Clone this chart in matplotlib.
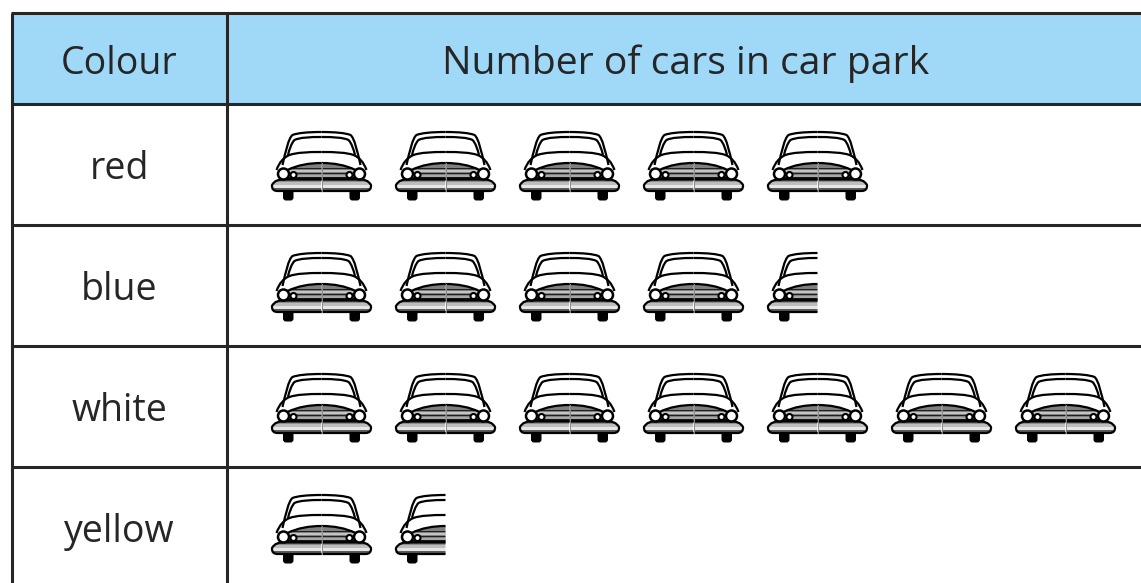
import matplotlib
matplotlib.use("Agg")
import matplotlib.pyplot as plt
from matplotlib.path import Path
from matplotlib.patches import PathPatch, Rectangle, Circle, FancyBboxPatch

colours = ["red", "blue", "white", "yellow"]
car_counts = [5, 4.5, 7, 1.5]
col_headers = ["Colour", "Number of cars in car park"]

W, H = 1141, 583
INK = "#262626"
fig = plt.figure(figsize=(W / 100, H / 100), dpi=100)
ax = fig.add_axes([0, 0, 1, 1])
ax.set_xlim(0, W)
ax.set_ylim(H, 0)
ax.axis("off")

FONT = "Open Sans"
LEFT, MID, TOP, HEAD = 12, 227, 13, 104
ROW_H = 121
PITCH = 124
CAR_X0 = 321.5
CAR_TOP = 132

ax.add_patch(Rectangle((LEFT, TOP), W - LEFT, HEAD - TOP, fc="#a0d8f8", ec="none", zorder=1))
for y in [TOP, HEAD] + [HEAD + ROW_H * (i + 1) for i in range(len(colours))]:
    ax.plot([LEFT - 1.5, W], [y, y], color=INK, lw=2.2, zorder=2, solid_capstyle="butt")
for x in [LEFT, MID]:
    ax.plot([x, x], [TOP, H], color=INK, lw=2.2, zorder=2, solid_capstyle="butt")

ax.text((LEFT + MID) / 2, 64, col_headers[0], ha="center", va="center", fontsize=27, family=FONT, color=INK)
ax.text(686, 64, col_headers[1], ha="center", va="center", fontsize=28.2, family=FONT, color=INK)


def half_car(cx, y0, s):
    """Draw one side of a front-view car; s=-1 is the left side, s=+1 the right."""
    X = lambda u: cx + s * u
    Y = lambda v: y0 + v
    M, L, C, Q = Path.MOVETO, Path.LINETO, Path.CURVE4, Path.CURVE3
    line = dict(fc="none", ec="black", lw=1.6, zorder=5, capstyle="butt")

    # wheel
    wx = min(X(27.5), X(39))
    ax.add_patch(FancyBboxPatch((wx + 2, Y(56)), 7.5, 11, boxstyle="round,pad=1.5,rounding_size=3",
                                fc="black", ec="none", zorder=3))

    # grille dome with stripes
    dome = PathPatch(Path([(X(0), Y(31)), (X(12), Y(31)), (X(24), Y(33)), (X(34), Y(38)),
                           (X(36), Y(48)), (X(0), Y(48)), (X(0), Y(31))],
                          [M, C, C, C, L, L, L]), fc="#7f7f7f", ec="none", zorder=3)
    ax.add_patch(dome)
    for v, h, c in [(35.5, 1.6, "#1f1f1f"), (37.5, 2.4, "#c4c4c4"), (40.5, 1.8, "#1f1f1f"),
                    (42.5, 2.2, "#a8a8a8"), (45, 3.0, "#141414")]:
        r = Rectangle((min(X(0), X(40)), Y(v)), 40, h, fc=c, ec="none", zorder=3.1)
        ax.add_patch(r)
        r.set_clip_path(dome)

    # body outlines
    ax.add_patch(PathPatch(Path([(X(0), Y(0)), (X(14), Y(0)), (X(24), Y(1)), (X(29), Y(3)),
                                 (X(33), Y(6)), (X(36), Y(20)), (X(39), Y(33))],
                                [M, C, C, C, C, C, C]), **line))
    ax.add_patch(PathPatch(Path([(X(0), Y(5)), (X(12), Y(5)), (X(22), Y(5.5)), (X(27), Y(8)),
                                 (X(30), Y(11)), (X(32), Y(17)), (X(33.5), Y(23))],
                                [M, C, C, C, C, C, C]), **line))
    ax.add_patch(PathPatch(Path([(X(0), Y(20)), (X(14), Y(20)), (X(25), Y(20.5)), (X(32), Y(23)),
                                 (X(38), Y(25.5)), (X(42), Y(30)), (X(45), Y(38))],
                                [M, C, C, C, C, C, C]), **line))
    ax.add_patch(PathPatch(Path([(X(0), Y(31)), (X(12), Y(31)), (X(24), Y(33)), (X(34), Y(38))],
                                [M, C, C, C]), **line))

    # bumper
    bump_pts = [(X(0), Y(47.5)), (X(36), Y(47.5)), (X(46), Y(46.5)), (X(49.5), Y(53)),
                (X(50), Y(59)), (X(44), Y(59)), (X(0), Y(59))]
    bump_codes = [M, L, Q, Q, Q, Q, L]
    bumper = PathPatch(Path(bump_pts + [(X(0), Y(47.5))], bump_codes + [L]), fc="white", ec="none", zorder=4)
    ax.add_patch(bumper)
    for v, h, c in [(46, 4, "#8e8e8e"), (50, 3, "#bdbdbd"), (53, 3, "#e6e6e6"), (56, 3.5, "#5c5c5c")]:
        r = Rectangle((min(X(0), X(50)), Y(v)), 50, h, fc=c, ec="none", zorder=4)
        ax.add_patch(r)
        r.set_clip_path(bumper)
    ax.add_patch(PathPatch(Path(bump_pts, bump_codes), **line))

    # lamps
    ax.add_patch(Circle((X(38), Y(42)), 5.5, fc="white", ec="black", lw=1.8, zorder=6))
    ax.add_patch(Circle((X(28), Y(43)), 3.0, fc="white", ec="black", lw=1.5, zorder=6))


for row, (name, count) in enumerate(zip(colours, car_counts)):
    yc = HEAD + ROW_H * row + 65
    ax.text((LEFT + MID) / 2, yc, name, ha="center", va="center", fontsize=27, family=FONT, color=INK)
    y0 = CAR_TOP + ROW_H * row
    whole = int(count)
    for i in range(whole):
        cx = CAR_X0 + PITCH * i
        half_car(cx, y0, -1)
        half_car(cx, y0, 1)
        ax.plot([cx, cx], [y0 + 31, y0 + 59], color="#8a8a8a", lw=0.7, zorder=5.5)
    if count > whole:
        half_car(CAR_X0 + PITCH * whole, y0, -1)

fig.savefig("out.png", dpi=100)
